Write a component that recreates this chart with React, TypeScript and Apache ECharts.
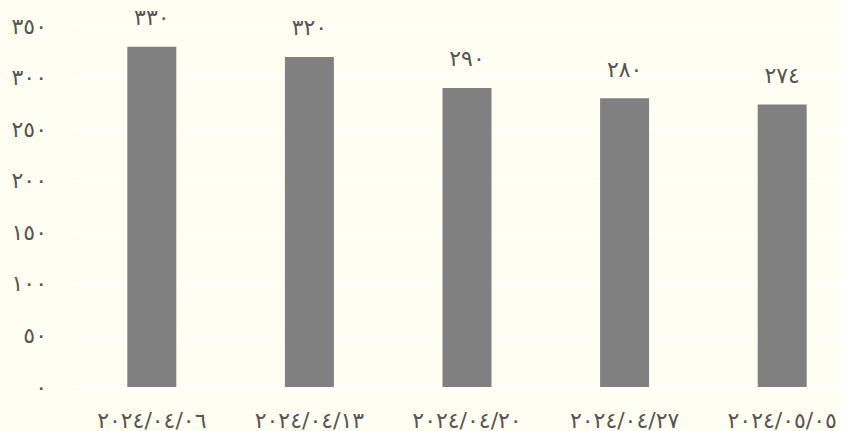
import React, { useEffect, useRef } from "react";
import * as echarts from "echarts";

const categories = ["٢٠٢٤/٠٤/٠٦", "٢٠٢٤/٠٤/١٣", "٢٠٢٤/٠٤/٢٠", "٢٠٢٤/٠٤/٢٧", "٢٠٢٤/٠٥/٠٥"];
const values = [330, 320, 290, 280, 274];
const yMin = 0;
const yMax = 350;
const yInterval = 50;

const arabicDigits = ["٠", "١", "٢", "٣", "٤", "٥", "٦", "٧", "٨", "٩"];
const toArabic = (n: number | string) =>
  String(n).replace(/[0-9]/g, (d) => arabicDigits[Number(d)]);

const FONT = "DejaVu Sans";
const TEXT = "#555555";
const FS = 22;

export default function App() {
  const ref = useRef<HTMLDivElement>(null);
  useEffect(() => {
    if (!ref.current) return;
    const chart = echarts.init(ref.current, null, { renderer: "svg" });
    chart.setOption({
      animation: false,
      backgroundColor: "#fffef2",
      grid: { left: 73, top: 26, width: 788, height: 362, containLabel: false },
      xAxis: {
        type: "category",
        data: categories,
        axisLine: { show: false },
        axisTick: { show: false },
        axisLabel: {
          color: TEXT,
          fontFamily: FONT,
          fontSize: FS,
          margin: 22,
        },
      },
      yAxis: {
        type: "value",
        min: yMin,
        max: yMax,
        interval: yInterval,
        axisLine: { show: false },
        axisTick: { show: false },
        splitLine: { show: true, lineStyle: { color: "#ffffff", width: 1.5 } },
        axisLabel: {
          color: TEXT,
          fontFamily: FONT,
          fontSize: FS,
          margin: 26,
          padding: [0, 0, 8, 0],
          formatter: (v: number) => toArabic(v),
        },
      },
      series: [
        {
          type: "bar",
          data: values,
          barWidth: 49,
          itemStyle: { color: "#808080" },
          label: {
            show: true,
            position: "top",
            distance: 18,
            color: TEXT,
            fontFamily: FONT,
            fontSize: FS,
            formatter: (p: any) => toArabic(p.value),
          },
        },
      ],
    });
    return () => chart.dispose();
  }, []);
  return (
    <div
      style={{ position: "fixed", left: 0, top: 0, width: 841, height: 431, overflow: "hidden" }}
    >
      <div ref={ref} style={{ width: 861, height: 431 }} />
    </div>
  );
}
